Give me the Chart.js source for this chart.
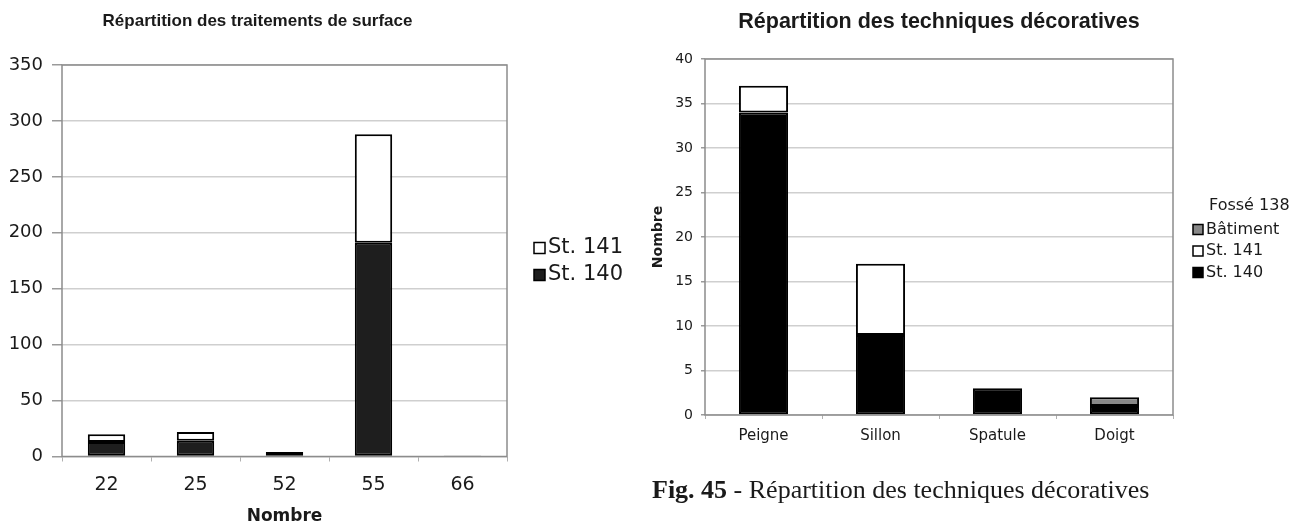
<!DOCTYPE html>
<html lang="fr">
<head>
<meta charset="utf-8">
<title>Répartition</title>
<script src="https://cdn.jsdelivr.net/npm/chart.js@4.4.1/dist/chart.umd.min.js"></script>
<style>
  html, body { margin: 0; padding: 0; background: #fff; }
  body { position: relative; width: 1302px; height: 525px; overflow: hidden; }
  #surfaceWrap { position: absolute; left: -44px; top: 0; width: 684px; height: 525px; }
  #techWrap { position: absolute; left: 642px; top: 0; width: 660px; height: 525px; }
  .caption {
    position: absolute; left: 652px; top: 477px;
    font-family: "Liberation Serif", "DejaVu Serif", serif;
    font-size: 26px; line-height: 26px; color: #1a1a1a; white-space: nowrap;
  }
  .caption b { font-weight: bold; }
</style>
</head>
<body>
<div id="surfaceWrap"><canvas id="surfaceChart"></canvas></div>
<div id="techWrap"><canvas id="techChart"></canvas></div>
<div class="caption"><b>Fig. 45</b> - Répartition des techniques décoratives</div>

<script>
// Left chart - surface treatments
const surfaceLabels = ['22', '25', '52', '55', '66'];
const surfaceSt140 = [13, 14, 4, 191, 1];
const surfaceSt141 = [7, 8, 0, 97, 0];

// Right chart - decorative techniques
const techLabels = ['Peigne', 'Sillon', 'Spatule', 'Doigt'];
const techSt140 = [34, 9, 3, 1];
const techSt141 = [3, 8, 0, 0];
const techBatiment = [0, 0, 0, 1];

const SANS = '"DejaVu Sans", Verdana, sans-serif';
const ARIAL = '"Liberation Sans", Arial, sans-serif';
const TEXT = '#1a1a1a';

// Grey frame around the plot area
const plotFrame = {
  id: 'plotFrame',
  beforeDatasetsDraw(chart, args, opts) {
    const { ctx, chartArea: a } = chart;
    ctx.save();
    ctx.strokeStyle = opts.color;
    ctx.lineWidth = opts.width;
    ctx.strokeRect(a.left, a.top, a.right - a.left, a.bottom - a.top);
    ctx.restore();
  }
};

// Legend drawn next to the plot, stacked top-down like the original
const sideLegend = {
  id: 'sideLegend',
  afterDraw(chart, args, opts) {
    const { ctx, chartArea } = chart;
    const x0 = chartArea.right;
    ctx.save();
    ctx.font = `${opts.size}px ${SANS}`;
    ctx.textBaseline = 'middle';
    ctx.textAlign = 'left';
    ctx.fillStyle = TEXT;
    if (opts.title) ctx.fillText(opts.title, x0 + opts.titleDx, opts.titleY);
    const items = chart.data.datasets.slice().reverse();
    items.forEach((ds, i) => {
      const y = opts.top + i * opts.gap;
      const s = opts.box;
      const bx = x0 + opts.boxDx;
      ctx.fillStyle = ds.backgroundColor;
      ctx.fillRect(bx, y - s / 2, s, s);
      ctx.strokeStyle = '#000';
      ctx.lineWidth = 1.5;
      ctx.strokeRect(bx, y - s / 2, s, s);
      ctx.fillStyle = TEXT;
      ctx.fillText(ds.label, x0 + opts.textDx, y);
    });
    ctx.restore();
  }
};

Chart.register(plotFrame, sideLegend);

function barSet(label, data, fill) {
  return {
    label: label,
    data: data,
    backgroundColor: fill,
    borderColor: '#000',
    borderWidth: 2,
    borderSkipped: false,
    categoryPercentage: 1,
    barPercentage: 0.42
  };
}

const surfaceChart = new Chart(document.getElementById('surfaceChart'), {
  type: 'bar',
  data: {
    labels: surfaceLabels,
    datasets: [
      barSet('St. 140', surfaceSt140, '#1e1e1e'),
      barSet('St. 141', surfaceSt141, '#ffffff')
    ]
  },
  options: {
    responsive: true,
    maintainAspectRatio: false,
    animation: false,
    layout: { padding: { left: 52, right: 133, top: 0, bottom: 0 } },
    plugins: {
      legend: { display: false },
      tooltip: { enabled: false },
      title: {
        display: true,
        text: 'Répartition des traitements de surface',
        color: TEXT,
        font: { family: ARIAL, size: 17, weight: 'bold', lineHeight: 1.2 },
        padding: { top: 10.8, bottom: 33.8 }
      },
      plotFrame: { color: '#8c8c8c', width: 1.5 },
      sideLegend: { size: 21, box: 11, boxDx: 27, textDx: 41, top: 248, gap: 27 }
    },
    scales: {
      x: {
        stacked: true,
        afterFit(scale) { scale.height = 68.5; },
        grid: { display: true, drawOnChartArea: false, offset: true, tickLength: 5, color: '#b0b0b0' },
        border: { display: false },
        ticks: { color: TEXT, padding: 12, font: { family: SANS, size: 19 } },
        title: {
          display: true,
          text: 'Nombre',
          color: TEXT,
          font: { family: SANS, size: 17, weight: 'bold', lineHeight: 1 },
          padding: { top: 0, bottom: 0 }
        }
      },
      y: {
        stacked: true,
        min: 0,
        max: 350,
        afterFit(scale) { scale.width = 54; },
        grid: { color: '#cfcfcf', lineWidth: 1.5, tickLength: 10, tickColor: '#9a9a9a' },
        border: { display: false },
        ticks: { stepSize: 50, color: TEXT, padding: 9, font: { family: SANS, size: 18 } }
      }
    }
  }
});

const techChart = new Chart(document.getElementById('techChart'), {
  type: 'bar',
  data: {
    labels: techLabels,
    datasets: [
      barSet('St. 140', techSt140, '#000000'),
      barSet('St. 141', techSt141, '#ffffff'),
      barSet('Bâtiment', techBatiment, '#888888')
    ]
  },
  options: {
    responsive: true,
    maintainAspectRatio: false,
    animation: false,
    layout: { padding: { left: 4, right: 129, top: 0, bottom: 0 } },
    plugins: {
      legend: { display: false },
      tooltip: { enabled: false },
      title: {
        display: true,
        fullSize: false,
        text: 'Répartition des techniques décoratives',
        color: TEXT,
        font: { family: ARIAL, size: 21.5, weight: 'bold', lineHeight: 1.2 },
        padding: { top: 9.5, bottom: 23.7 }
      },
      plotFrame: { color: '#8c8c8c', width: 1.5 },
      sideLegend: {
        size: 16, box: 10, boxDx: 20, textDx: 33, top: 229.5, gap: 21.5,
        title: 'Fossé 138', titleDx: 36, titleY: 206
      }
    },
    scales: {
      x: {
        stacked: true,
        afterFit(scale) { scale.height = 110; },
        grid: { display: true, drawOnChartArea: false, offset: true, tickLength: 4, color: '#b0b0b0' },
        border: { display: false },
        ticks: { color: TEXT, padding: 8.5, font: { family: SANS, size: 15 } }
      },
      y: {
        stacked: true,
        min: 0,
        max: 40,
        afterFit(scale) { scale.width = 59; },
        grid: { color: '#cfcfcf', lineWidth: 1.5, tickLength: 4, tickColor: '#9a9a9a' },
        border: { display: false },
        ticks: { stepSize: 5, color: TEXT, padding: 8, font: { family: SANS, size: 14 } },
        title: {
          display: true,
          text: 'Nombre',
          color: TEXT,
          font: { family: SANS, size: 14, weight: 'bold' },
          padding: { top: 4, bottom: 0 }
        }
      }
    }
  }
});
</script>
</body>
</html>
